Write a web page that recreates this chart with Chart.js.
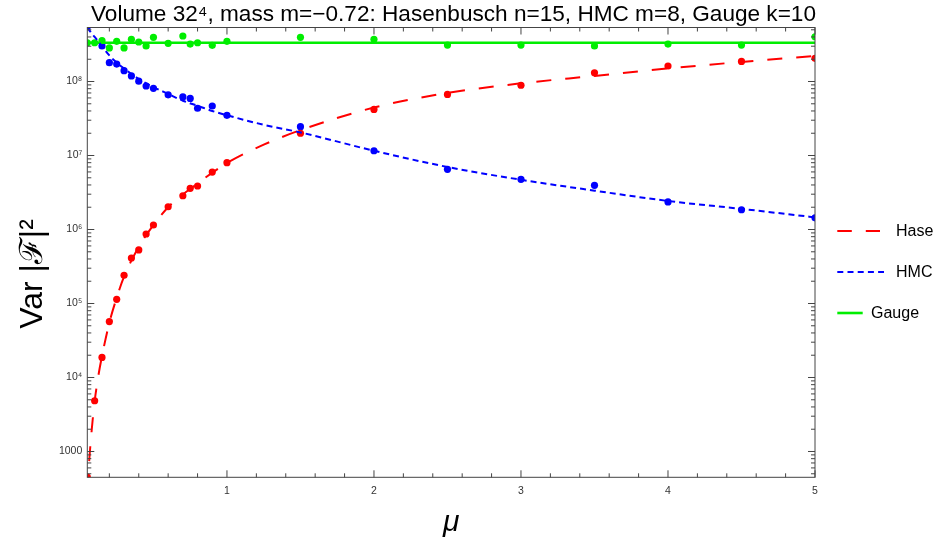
<!DOCTYPE html>
<html><head><meta charset="utf-8">
<script src="https://cdn.jsdelivr.net/npm/chart.js@4.4.0/dist/chart.umd.min.js"></script>
<style>html,body{margin:0;padding:0;background:#fff;} #c{display:block;}</style>
</head><body>
<canvas id="c" width="938" height="547"></canvas>
<script>
// ---- data ----
const mu       = [0.05,0.1,0.15,0.2,0.25,0.3,0.35,0.4,0.45,0.5,0.6,0.7,0.75,0.8,0.9,1.0,1.5,2,2.5,3,3.5,4,4.5,5];
const haseVar  = [450,4850,1.87e4,5.7e4,1.14e5,2.41e5,4.12e5,5.3e5,8.7e5,1.15e6,2.03e6,2.86e6,3.6e6,3.87e6,5.98e6,8.0e6,2.0e7,4.2e7,6.7e7,8.9e7,1.31e8,1.62e8,1.87e8,2.06e8];
const hmcVar   = [5.5e8,null,3.02e8,1.80e8,1.72e8,1.40e8,1.19e8,1.01e8,8.7e7,8.1e7,6.6e7,6.2e7,5.9e7,4.35e7,4.67e7,3.49e7,2.45e7,1.16e7,6.5e6,4.77e6,3.95e6,2.36e6,1.85e6,1.44e6];
const gaugeVar = [3.34e8,3.34e8,3.56e8,2.84e8,3.49e8,2.84e8,3.72e8,3.42e8,3.02e8,3.95e8,3.28e8,4.12e8,3.21e8,3.34e8,3.08e8,3.49e8,3.95e8,3.72e8,3.11e8,3.11e8,3.02e8,3.21e8,3.11e8,4.03e8];

const haseFitMu = [0.05,0.06,0.07,0.08,0.09,0.1,0.125,0.15,0.2,0.25,0.3,0.4,0.5,0.6,0.8,1.0,1.25,1.5,2,2.5,3,3.5,4,4.5,5];
const haseFit   = [300,620,1150,1950,3150,4800,1.05e4,1.95e4,5.5e4,1.2e5,2.3e5,5.8e5,1.15e6,2.0e6,4.2e6,7.9e6,1.4e7,2.2e7,4.45e7,7.0e7,9.45e7,1.19e8,1.5e8,1.84e8,2.21e8];
const hmcFitMu  = [0.05,0.075,0.1,0.15,0.2,0.25,0.3,0.4,0.5,0.6,0.7,0.8,0.9,1.0,1.25,1.5,2,2.5,3,3.5,4,4.5,5];
const hmcFit    = [5.4e8,4.6e8,4.0e8,3.0e8,2.25e8,1.8e8,1.5e8,1.08e8,8.4e7,6.8e7,5.5e7,4.7e7,4.0e7,3.5e7,2.6e7,2.05e7,1.16e7,7.0e6,4.7e6,3.35e6,2.43e6,1.9e6,1.46e6];
const gaugeFitMu = [0.05,5];
const gaugeFit   = [3.34e8,3.34e8];

const xTicks = [1,2,3,4,5];
const xTickLabels = ['1','2','3','4','5'];
const yTicks = [1e3,1e4,1e5,1e6,1e7,1e8];
const yTickLabels = ['1000','10⁴','10⁵','10⁶','10⁷','10⁸'];
const seriesNames = ['Hase','HMC','Gauge'];
const titleText = 'Volume 32⁴, mass m=−0.72: Hasenbusch n=15, HMC m=8, Gauge k=10';
const xTitle = 'μ';
const yTitle = 'Var |ℱ|²';

// ---- styles ----
const RED = 'rgb(255,0,0)', BLUE = 'rgb(0,0,255)', GREEN = 'rgb(0,238,0)';
const FONT = '"Liberation Sans", Arial, Helvetica, sans-serif';
const FRAME = '#444';

function pts(xs, ys){ return xs.map((x,i)=>({x:x, y:ys[i]})).filter(p=>p.y!=null); }

const decorPlugin = {
  id:'decor',
  beforeDraw(chart){
    const ctx = chart.ctx; ctx.save(); ctx.fillStyle='#fff'; ctx.fillRect(0,0,chart.width,chart.height); ctx.restore();
  },
  afterDatasetsDraw(chart){
    const ctx = chart.ctx, a = chart.chartArea, xs = chart.scales.x, ys = chart.scales.y;
    ctx.save();
    ctx.strokeStyle = FRAME; ctx.lineWidth = 1;
    ctx.strokeRect(a.left, a.top, a.right-a.left, a.bottom-a.top);
    ctx.beginPath();
    // x ticks: majors and minors (every 0.2), bottom and top, inward
    for (let k=1;k<=25;k++){
      const v = Math.round(k*2)/10;
      if (v < xs.min || v > xs.max) continue;
      const major = Math.abs(v-Math.round(v))<1e-9;
      const len = major ? 7 : 4;
      const px = xs.getPixelForValue(v);
      ctx.moveTo(px, a.bottom); ctx.lineTo(px, a.bottom-len);
      ctx.moveTo(px, a.top); ctx.lineTo(px, a.top+len);
    }
    // y ticks (log): decades major, 2..9 minor
    for (let e=2;e<=9;e++){
      for (let m=1;m<=9;m++){
        const v = m*Math.pow(10,e);
        if (v < ys.min || v > ys.max) continue;
        const len = m===1 ? 7 : 4;
        const py = ys.getPixelForValue(v);
        ctx.moveTo(a.left, py); ctx.lineTo(a.left+len, py);
        ctx.moveTo(a.right, py); ctx.lineTo(a.right-len, py);
      }
    }
    ctx.stroke();
    ctx.restore();
  },
  afterDraw(chart){
    const ctx = chart.ctx, a = chart.chartArea;
    ctx.save();
    // title
    ctx.fillStyle = '#000';
    ctx.font = '22px ' + FONT;
    ctx.textBaseline = 'alphabetic'; ctx.textAlign = 'left';
    const tw = ctx.measureText(titleText).width;
    const target = 725, sx = target/tw;
    ctx.save(); ctx.translate(91, 21); ctx.scale(sx,1); ctx.fillText(titleText, 0, 0); ctx.restore();
    // y title
    ctx.save();
    ctx.font = '32px ' + FONT;
    ctx.translate(42, 274); ctx.rotate(-Math.PI/2);
    ctx.textAlign = 'center'; ctx.fillText(yTitle, 0, 0);
    ctx.restore();
    // x title
    ctx.font = 'italic 30px ' + FONT;
    ctx.textAlign = 'center';
    ctx.fillText(xTitle, (a.left+a.right)/2, 531);
    // legend
    const rows = [
      {y:231, color:RED, dash:[14.5,14], w:2, x0:837.3, x1:880, tx:896},
      {y:272, color:BLUE, dash:[6,4.2], w:2, x0:837.3, x1:884, tx:896},
      {y:313, color:GREEN, dash:[], w:2.6, x0:837.3, x1:862.7, tx:871}
    ];
    ctx.font = '16px ' + FONT; ctx.textAlign='left'; ctx.textBaseline='middle';
    rows.forEach((r,i)=>{
      ctx.save(); ctx.strokeStyle=r.color; ctx.lineWidth=r.w; ctx.setLineDash(r.dash);
      ctx.beginPath(); ctx.moveTo(r.x0,r.y); ctx.lineTo(r.x1,r.y); ctx.stroke(); ctx.restore();
      ctx.fillStyle='#000'; ctx.fillText(seriesNames[i], r.tx, r.y+1);
    });
    ctx.restore();
  }
};

new Chart(document.getElementById('c'), {
  type:'scatter',
  data:{ datasets:[
    {label:'Hase fit', data:pts(haseFitMu,haseFit), showLine:true, borderColor:RED, borderWidth:2, borderDash:[15,14], pointRadius:0, cubicInterpolationMode:'monotone', fill:false},
    {label:'HMC fit', data:pts(hmcFitMu,hmcFit), showLine:true, borderColor:BLUE, borderWidth:2, borderDash:[6,4], pointRadius:0, cubicInterpolationMode:'monotone', fill:false},
    {label:'Gauge fit', data:pts(gaugeFitMu,gaugeFit), showLine:true, borderColor:GREEN, borderWidth:2.6, pointRadius:0, fill:false},
    {label:seriesNames[0], data:pts(mu,haseVar), showLine:false, pointRadius:3.6, pointBackgroundColor:RED, pointBorderWidth:0},
    {label:seriesNames[1], data:pts(mu,hmcVar), showLine:false, pointRadius:3.6, pointBackgroundColor:BLUE, pointBorderWidth:0},
    {label:seriesNames[2], data:pts(mu,gaugeVar), showLine:false, pointRadius:3.6, pointBackgroundColor:GREEN, pointBorderWidth:0}
  ]},
  options:{
    responsive:false, animation:false, devicePixelRatio:1,
    layout:{padding:{left:0, right:123, top:27.5, bottom:0}},
    plugins:{legend:{display:false}, title:{display:false}, tooltip:{enabled:false}},
    scales:{
      x:{type:'linear', min:0.05, max:5,
        grid:{display:false, drawTicks:false}, border:{display:false},
        afterBuildTicks:(s)=>{ s.ticks = xTicks.map(v=>({value:v})); },
        afterFit:(s)=>{ s.height = 547-477.3; },
        ticks:{ autoSkip:false, maxRotation:0, padding:8, color:'#333',
          font:{family:FONT, size:10.5},
          callback:(v)=>{ const i = xTicks.indexOf(v); return i>=0 ? xTickLabels[i] : ''; } }
      },
      y:{type:'logarithmic', min:448, max:5.37e8,
        grid:{display:false, drawTicks:false}, border:{display:false},
        afterBuildTicks:(s)=>{ s.ticks = yTicks.map(v=>({value:v})); },
        afterFit:(s)=>{ s.width = 87.3; },
        ticks:{ autoSkip:false, padding:5, color:'#333',
          font:{family:FONT, size:10.5},
          callback:(v)=>{ const i = yTicks.indexOf(v); return i>=0 ? yTickLabels[i] : ''; } }
      }
    }
  },
  plugins:[decorPlugin]
});
</script>
</body></html>
